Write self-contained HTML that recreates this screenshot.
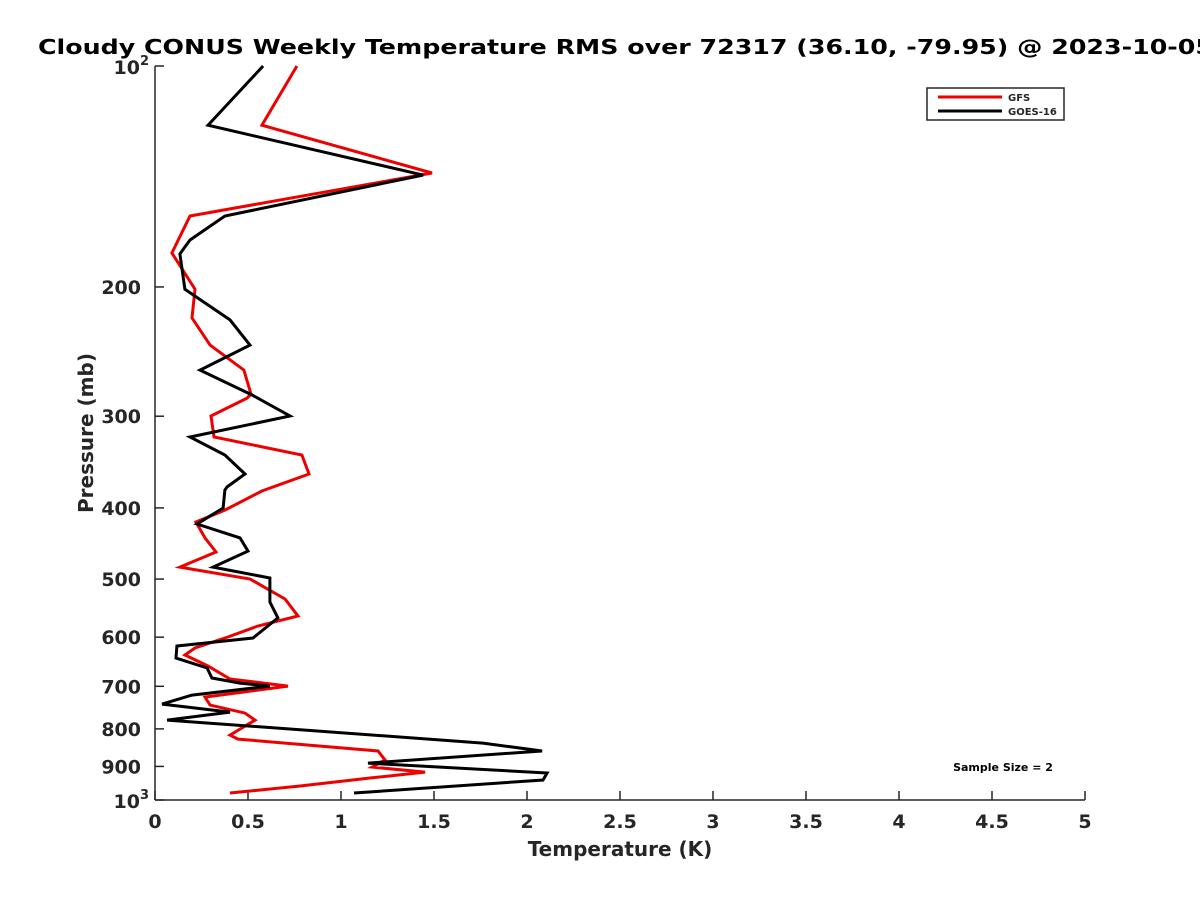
<!DOCTYPE html>
<html><head><meta charset="utf-8"><style>
body{margin:0;background:#fff;}
svg text{font-family:"DejaVu Sans","Liberation Sans",sans-serif;font-weight:bold;fill:#262626;}
</style></head><body>
<svg id="chart" width="1200" height="900" viewBox="0 0 1200 900" xmlns="http://www.w3.org/2000/svg">
<rect width="1200" height="900" fill="#fff"/>
<text x="38" y="54" font-size="20" textLength="1175" lengthAdjust="spacingAndGlyphs" style="fill:#000">Cloudy CONUS Weekly Temperature RMS over 72317 (36.10, -79.95) @ 2023-10-05</text>
<g id="axes"></g>
<g id="series"></g>
<text x="620" y="856" text-anchor="middle" font-size="20">Temperature (K)</text>
<text transform="translate(93,433) rotate(-90)" text-anchor="middle" font-size="20">Pressure (mb)</text>
<g>
<rect x="927" y="88" width="137" height="32" fill="#fff" stroke="#262626" stroke-width="1.5"/>
<line x1="938" y1="97" x2="1002" y2="97" stroke="#e00" stroke-width="3"/>
<text x="1008" y="101" font-size="10">GFS</text>
<line x1="938" y1="111" x2="1002" y2="111" stroke="#000" stroke-width="3"/>
<text x="1008" y="115" font-size="10">GOES-16</text>
</g>
<text x="1003" y="771" text-anchor="middle" font-size="11" style="fill:#000">Sample Size = 2</text>
</svg>
<script>
const xTicks=[0,0.5,1,1.5,2,2.5,3,3.5,4,4.5,5];
const xTickLabels=["0","0.5","1","1.5","2","2.5","3","3.5","4","4.5","5"];
const yTicks=[200,300,400,500,600,700,800,900];
const gfsP=[100,120.4,139.9,160.1,179.8,201.4,220.4,240,259.6,279.9,283.4,299.8,320.2,338.8,359.6,379.3,402.7,418.1,439.5,459.4,481.6,500,532.3,561.4,579.3,599.7,620.8,634.6,656.8,684.2,699.6,724.1,742.5,761.4,778.3,815.7,826,857.6,882.2,901.8,916.2,933.3,957,978.4];
const gfsT=[0.763,0.575,1.489,0.188,0.091,0.215,0.199,0.296,0.478,0.516,0.495,0.301,0.317,0.79,0.828,0.575,0.376,0.22,0.269,0.328,0.134,0.511,0.699,0.769,0.554,0.392,0.215,0.161,0.285,0.403,0.715,0.269,0.296,0.484,0.538,0.403,0.446,1.199,1.237,1.167,1.452,1.156,0.78,0.403];
const goesP=[100,120.4,140.8,160.1,172.6,180.3,201.4,221.8,240,259.6,280.7,299.8,320.2,338.8,359.6,374.6,378.2,400.2,420.7,439.5,458,481.6,498.4,537.3,564.9,601.6,616.9,640.6,661,682.1,693,699.6,719.6,740.2,759,778.3,836.4,857.6,890.6,918.9,939.3,978.4];
const goesT=[0.581,0.285,1.441,0.376,0.188,0.134,0.161,0.403,0.511,0.242,0.522,0.726,0.188,0.376,0.484,0.387,0.376,0.366,0.226,0.457,0.5,0.312,0.618,0.618,0.661,0.527,0.118,0.113,0.28,0.306,0.457,0.618,0.199,0.038,0.403,0.065,1.763,2.081,1.145,2.108,2.086,1.07];
const X0=155,X1=1085,Y0=66,Y1=800;
const xs=v=>X0+(v-0)/(5-0)*(X1-X0);
const ys=p=>Y0+Math.log10(p/100)*(Y1-Y0);
const NS="http://www.w3.org/2000/svg";
const ax=document.getElementById('axes');
function mk(tag,attrs,parent){const e=document.createElementNS(NS,tag);for(const k in attrs)e.setAttribute(k,attrs[k]);parent.appendChild(e);return e;}
let l=mk('line',{x1:X0,y1:Y0,x2:X0,y2:Y1,stroke:'#262626','stroke-width':1.5},ax);


l=mk('line',{x1:X0,y1:Y1,x2:X1,y2:Y1,stroke:'#262626','stroke-width':1.5},ax);


xTicks.forEach((v,i)=>{
  const t=mk('line',{x1:xs(v),y1:Y1,x2:xs(v),y2:Y1-9,stroke:'#262626','stroke-width':1.5},ax);
  
  
  const tx=mk('text',{x:xs(v),y:Y1+28,'text-anchor':'middle','font-size':19},ax);
  tx.textContent=xTickLabels[i];
  
  
});
[100].concat(yTicks,[1000]).forEach(p=>{
  const t=mk('line',{x1:X0,y1:ys(p),x2:X0+9,y2:ys(p),stroke:'#262626','stroke-width':1.5},ax);
  
  
});
yTicks.forEach(p=>{
  const tx=mk('text',{x:X0-14,y:ys(p)+7,'text-anchor':'end','font-size':19},ax);
  tx.textContent=String(p);
  
  
});
[[100,'2'],[1000,'3']].forEach(([p,e])=>{
  const tx=mk('text',{x:X0-6,y:ys(p)+8,'text-anchor':'end','font-size':19},ax);
  tx.innerHTML='10<tspan dy="-9" font-size="13">'+e+'</tspan>';
  
  
});
const sg=document.getElementById('series');
function line(P,T,color,name){
  const pts=P.map((p,i)=>xs(T[i]).toFixed(1)+','+ys(p).toFixed(1)).join(' ');
  const pl=mk('polyline',{points:pts,fill:'none',stroke:color,'stroke-width':3,'stroke-linejoin':'miter'},sg);
  
  
}
line(gfsP,gfsT,'#e00','gfs-line');
line(goesP,goesT,'#000','goes16-line');
</script>
</body></html>
